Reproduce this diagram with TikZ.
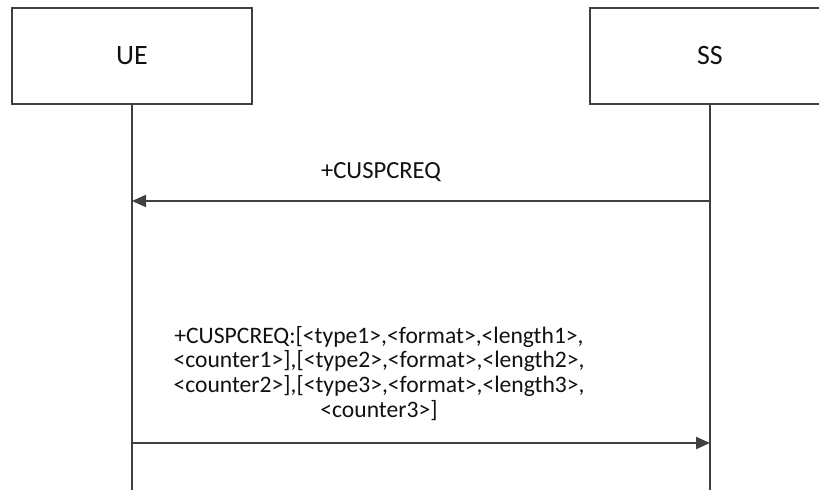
\documentclass[tikz,border=0pt]{standalone}
\usepackage{fontspec}
\setmainfont{Carlito}
\usetikzlibrary{arrows.meta}
\definecolor{ln}{HTML}{404040}
\definecolor{tx}{HTML}{111111}
\begin{document}
\begin{tikzpicture}[x=1pt,y=-1pt,
  entity/.style={draw=ln,line width=1.6pt,minimum width=240pt,minimum height=96pt,inner sep=0pt,text=tx,font=\fontsize{28}{32}\selectfont},
  lifeline/.style={draw=ln,line width=2pt},
  msg/.style={draw=ln,line width=2pt,-{Triangle[length=14pt,width=12pt]}},
  lbl/.style={text=tx,font=\fontsize{23.6}{24.6}\selectfont,align=center,inner sep=0pt}]
\clip (0,0) rectangle (819,490);
\useasboundingbox (0,0) rectangle (819,490);
\node[entity] (ue) at (132,56) {UE};
\node[entity] (ss) at (710,56) {SS};
\coordinate (ueb) at (132,490);
\coordinate (ssb) at (710,490);
\draw[lifeline] (ue.south) -- (ueb);
\draw[lifeline] (ss.south) -- (ssb);
\coordinate (m1s) at (710,201);
\coordinate (m1e) at (132,201);
\draw[msg] (m1s) -- (m1e);
\node[lbl,font=\fontsize{24.6}{26}\selectfont,anchor=base] (t1) at (381,178) {+CUSPCREQ};
\coordinate (m2s) at (132,443);
\coordinate (m2e) at (710,443);
\draw[msg] (m2s) -- (m2e);
\node[lbl,anchor=north] (t2) at (379,326) {+CUSPCREQ:[<type1>,<format>,<length1>,\\<counter1>],[<type2>,<format>,<length2>,\\<counter2>],[<type3>,<format>,<length3>,\\<counter3>]};
\end{tikzpicture}
\end{document}
